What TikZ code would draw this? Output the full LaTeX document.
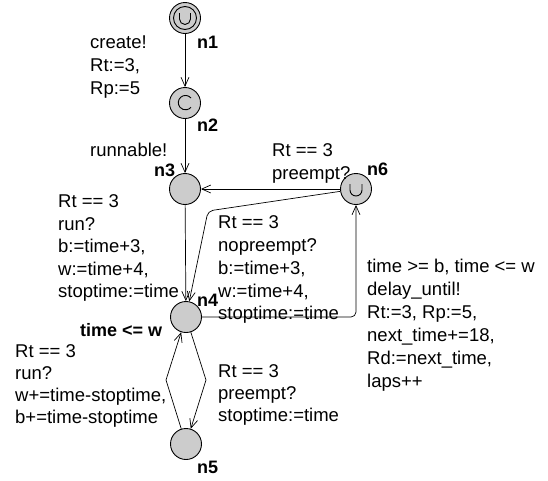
\documentclass[tikz,border=0pt]{standalone}
\usepackage{fontspec}
\setmainfont{Liberation Sans}
\usetikzlibrary{arrows.meta}
\begin{document}
\begin{tikzpicture}[x=1pt,y=-1pt,
  loc/.style={circle,draw,fill=black!20,minimum size=31pt,inner sep=0pt,line width=0.9pt},
  lbl/.style={anchor=north west,inner sep=0pt,align=left},
  nm/.style={anchor=base west,inner sep=0pt,font=\fontsize{18}{20}\selectfont\bfseries},
  edge/.style={draw,line width=0.7pt,-{Straight Barb[length=9pt,width=8pt]}},
  locmark/.style={draw,line width=0.9pt},
]
\path[use as bounding box,fill=white] (0,0) rectangle (548,480);
% locations
\node[loc] (n1) at (185,18) {};
\node[loc] (n2) at (185,103) {};
\node[loc] (n3) at (185,189) {};
\node[loc] (n4) at (186,317) {};
\node[loc] (n5) at (186,444) {};
\node[loc] (n6) at (356,189) {};
% markers
\draw[locmark] (n1.center) circle[radius=11.5];
\draw[locmark] ([shift={(-5.5,-5)}]n1.center) -- ++(0,6) arc[start angle=180,end angle=0,radius=5.5] -- ++(0,-6);
\draw[locmark] ([shift={(-6,-5)}]n6.center) -- ++(0,6) arc[start angle=180,end angle=0,radius=6] -- ++(0,-6);
\draw[locmark] ([shift={(6,-5)}]n2.center) arc[start angle=-40,end angle=-320,radius=7.2];
% names
\node[nm] (l1) at (197,48) {n1};
\node[nm] (l2) at (197,131) {n2};
\node[nm] (l3) at (154,176) {n3};
\node[nm] (l4) at (197,306) {n4};
\node[nm] (l5) at (197,473) {n5};
\node[nm] (l6) at (367,175) {n6};
\node[nm] (inv) at (80,336) {time <= w};
% edges
\coordinate (c64) at (208,211);
\coordinate (c46) at (356,317);
\coordinate (c45) at (206,380);
\coordinate (c54) at (166,380);
\draw[edge] (n1) -- (n2);
\draw[edge] (n2) -- (n3);
\draw[edge] (n6) -- (n3);
\draw[edge] (n3) -- (n4);
\draw[edge,rounded corners=5pt] (n6) -- (c64) -- (n4);
\draw[edge,rounded corners=5pt] (n4) -- (c46) -- (n6);
\draw[edge] (n4) -- (c45) -- (n5);
\draw[edge] (n5) -- (c54) -- (n4);
% labels
\node[lbl,font=\fontsize{18.5}{23}\selectfont] (t12) at (90,35.8) {create!\\Rt:=3,\\Rp:=5};
\node[lbl,font=\fontsize{18.5}{23}\selectfont] (t23) at (90,142.8) {runnable!};
\node[lbl,font=\fontsize{18.5}{23}\selectfont] (t63) at (272,143.8) {Rt == 3\\preempt?};
\node[lbl,font=\fontsize{18.5}{22.5}\selectfont] (t34) at (58,194.8) {Rt == 3\\run?\\b:=time+3,\\w:=time+4,\\stoptime:=time};
\node[lbl,font=\fontsize{18.5}{22.75}\selectfont] (t64) at (218,215.8) {Rt == 3\\nopreempt?\\b:=time+3,\\w:=time+4,\\stoptime:=time};
\node[lbl,font=\fontsize{18.5}{23}\selectfont] (t46) at (367,258.8) {time >= b, time <= w\\delay\_until!\\Rt:=3, Rp:=5,\\next\_time+=18,\\Rd:=next\_time,\\laps++};
\node[lbl,font=\fontsize{18.5}{22}\selectfont] (t54) at (15,344.8) {Rt == 3\\run?\\w+=time-stoptime,\\b+=time-stoptime};
\node[lbl,font=\fontsize{18.5}{22}\selectfont] (t45) at (218,364.8) {Rt == 3\\preempt?\\stoptime:=time};
\end{tikzpicture}
\end{document}
